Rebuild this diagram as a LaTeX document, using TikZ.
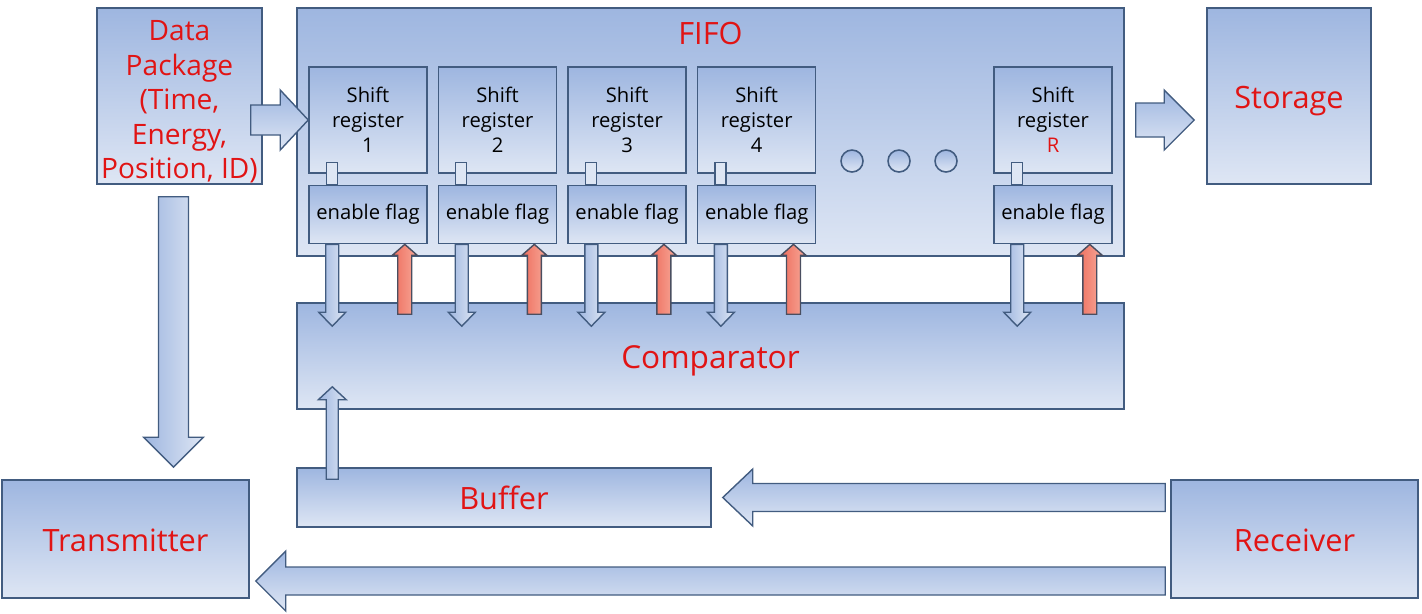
\documentclass[tikz,border=0pt]{standalone}
\usepackage{fontspec}
\setmainfont{Open Sans}
\usepackage{tikz}
\usetikzlibrary{calc,positioning}

\definecolor{boxtop}{HTML}{9EB6E0}
\definecolor{boxbot}{HTML}{DEE6F4}
\definecolor{boxline}{HTML}{425C80}
\definecolor{txtred}{HTML}{E11414}
\definecolor{redA}{HTML}{EE6E5E}
\definecolor{redB}{HTML}{F7A898}
\definecolor{redline}{HTML}{4A4E60}

% fat block arrow: [style]{from}{to}{half shaft}{half head}{head length}
\newcommand{\fatarrow}[6][]{%
  \coordinate (fa-s) at (#2);
  \coordinate (fa-e) at (#3);
  \coordinate (fa-n) at ($(fa-e)!#6!(fa-s)$);
  \draw[#1] ($(fa-s)!#4!90:(fa-e)$) -- ($(fa-n)!#4!90:(fa-e)$)
    -- ($(fa-n)!#5!90:(fa-e)$) -- (fa-e) -- ($(fa-n)!#5!-90:(fa-e)$)
    -- ($(fa-n)!#4!-90:(fa-e)$) -- ($(fa-s)!#4!-90:(fa-e)$) -- cycle;}

\tikzset{
  box/.style={draw=boxline, line width=0.9pt, top color=boxtop, bottom color=boxbot, inner sep=0pt, align=center},
  bigtxt/.style={text=txtred, font=\fontsize{17.5}{20}\selectfont, text height=0.52cm, text depth=0.04cm},
  regbox/.style={box, minimum width=2.36cm, minimum height=2.12cm, font=\fontsize{11.5}{14.2}\selectfont},
  flagbox/.style={box, minimum width=2.36cm, minimum height=1.16cm, font=\fontsize{11.5}{14}\selectfont},
  dotc/.style={circle, draw=boxline, line width=0.9pt, top color=boxtop, bottom color=boxbot, minimum size=0.44cm, inner sep=0pt},
  bluearrow/.style={draw=boxline, line width=0.8pt, top color=boxtop, bottom color=boxbot},
  vblue/.style={draw=boxline, line width=0.8pt, left color=boxtop, right color=boxbot},
  redarrow/.style={draw=redline, line width=0.8pt, left color=redA, right color=redB},
  bar/.style={draw=boxline, line width=0.8pt, fill=boxbot}
}

\begin{document}
\begin{tikzpicture}[x=0.02cm,y=-0.02cm]
  \useasboundingbox (0,0) rectangle (1422,613);

  \node[box, minimum width=3.3cm, minimum height=3.52cm] (data) at (179.5,96) {};
  \node[text=txtred, align=center, inner sep=0pt, font=\fontsize{16}{19.6}\selectfont]
    (datatxt) at ($(data.center)+(0,6)$) {Data\\Package\\(Time,\\Energy,\\Position, ID)};
  \node[box, minimum width=16.54cm, minimum height=4.96cm] (fifo) at (710.5,132) {};
  \node[bigtxt] (fifotxt) at ($(fifo.north)+(0,25)$) {FIFO};
  \node[box, bigtxt, minimum width=3.28cm, minimum height=3.52cm] (storage) at (1289,96) {Storage};

  \node[regbox] (sr1) at (368,120) {Shift\\register\\1};
  \node[regbox] (sr2) [right=0.2cm of sr1] {Shift\\register\\2};
  \node[regbox] (sr3) [right=0.2cm of sr2] {Shift\\register\\3};
  \node[regbox] (sr4) [right=0.2cm of sr3] {Shift\\register\\4};
  \node[regbox] (sr5) at (1053,120) {Shift\\register\\{\color{txtred}R}};

  \node[flagbox] (fl1) [below=0.22cm of sr1] {enable flag};
  \node[flagbox] (fl2) [below=0.22cm of sr2] {enable flag};
  \node[flagbox] (fl3) [below=0.22cm of sr3] {enable flag};
  \node[flagbox] (fl4) [below=0.22cm of sr4] {enable flag};
  \node[flagbox] (fl5) [below=0.22cm of sr5] {enable flag};

  \node[dotc] (dot1) at (852,161) {};
  \node[dotc] (dot2) at (899,161) {};
  \node[dotc] (dot3) at (946,161) {};

  % register to flag
  \draw[bar] ($(sr1.south west)+(18,-11)$) rectangle ($(fl1.north west)+(29,0)$);
  \draw[bar] ($(sr2.south west)+(18,-11)$) rectangle ($(fl2.north west)+(29,0)$);
  \draw[bar] ($(sr3.south west)+(18,-11)$) rectangle ($(fl3.north west)+(29,0)$);
  \draw[bar] ($(sr4.south west)+(18,-11)$) rectangle ($(fl4.north west)+(29,0)$);
  \draw[bar] ($(sr5.south west)+(18,-11)$) rectangle ($(fl5.north west)+(29,0)$);

  \node[box, bigtxt, minimum width=16.54cm, minimum height=2.12cm, font=\fontsize{18}{20}\selectfont] (comp) at (710.5,356) {Comparator};
  \node[box, bigtxt, minimum width=8.28cm, minimum height=1.18cm] (buffer) at (504,497.5) {Buffer};
  \node[box, bigtxt, minimum width=4.94cm, minimum height=2.36cm] (trans) at (125.5,539) {Transmitter};
  \node[box, bigtxt, minimum width=4.94cm, minimum height=2.36cm] (recv) at (1294.5,539) {Receiver};

  % flags down to comparator
  \fatarrow[vblue]{$(fl1.south west)+(24,0)$}{$(fl1.south west |- comp.north)+(24,24)$}{0.13cm}{0.27cm}{0.28cm}
  \fatarrow[vblue]{$(fl2.south west)+(24,0)$}{$(fl2.south west |- comp.north)+(24,24)$}{0.13cm}{0.27cm}{0.28cm}
  \fatarrow[vblue]{$(fl3.south west)+(24,0)$}{$(fl3.south west |- comp.north)+(24,24)$}{0.13cm}{0.27cm}{0.28cm}
  \fatarrow[vblue]{$(fl4.south west)+(24,0)$}{$(fl4.south west |- comp.north)+(24,24)$}{0.13cm}{0.27cm}{0.28cm}
  \fatarrow[vblue]{$(fl5.south west)+(24,0)$}{$(fl5.south west |- comp.north)+(24,24)$}{0.13cm}{0.27cm}{0.28cm}

  % comparator back to flags
  \fatarrow[redarrow]{$(fl1.south east |- comp.north)+(-23,12)$}{$(fl1.south east)+(-23,0)$}{0.14cm}{0.25cm}{0.22cm}
  \fatarrow[redarrow]{$(fl2.south east |- comp.north)+(-23,12)$}{$(fl2.south east)+(-23,0)$}{0.14cm}{0.25cm}{0.22cm}
  \fatarrow[redarrow]{$(fl3.south east |- comp.north)+(-23,12)$}{$(fl3.south east)+(-23,0)$}{0.14cm}{0.25cm}{0.22cm}
  \fatarrow[redarrow]{$(fl4.south east |- comp.north)+(-23,12)$}{$(fl4.south east)+(-23,0)$}{0.14cm}{0.25cm}{0.22cm}
  \fatarrow[redarrow]{$(fl5.south east |- comp.north)+(-23,12)$}{$(fl5.south east)+(-23,0)$}{0.14cm}{0.25cm}{0.22cm}

  \fatarrow[bluearrow]{$(data.east |- sr1.west)+(-12,0)$}{sr1.west}{0.3cm}{0.6cm}{0.56cm}
  \fatarrow[bluearrow]{$(fifo.east |- sr1.east)+(11,0)$}{$(storage.west |- sr1.east)+(-12,0)$}{0.34cm}{0.6cm}{0.6cm}
  \fatarrow[vblue]{$(data.south)+(-6,12)$}{$(data.south |- trans.north)+(-6,-12)$}{0.3cm}{0.6cm}{0.6cm}
  \fatarrow[vblue]{$(buffer.north west)+(36,12)$}{$(comp.south west)+(36,-23)$}{0.12cm}{0.28cm}{0.26cm}
  \fatarrow[bluearrow]{$(recv.west |- buffer.east)+(-5,0)$}{$(buffer.east)+(11,0)$}{0.28cm}{0.57cm}{0.6cm}
  \fatarrow[bluearrow]{$(recv.west)+(-5,42)$}{$(trans.east)+(6,42)$}{0.28cm}{0.6cm}{0.6cm}
\end{tikzpicture}
\end{document}
